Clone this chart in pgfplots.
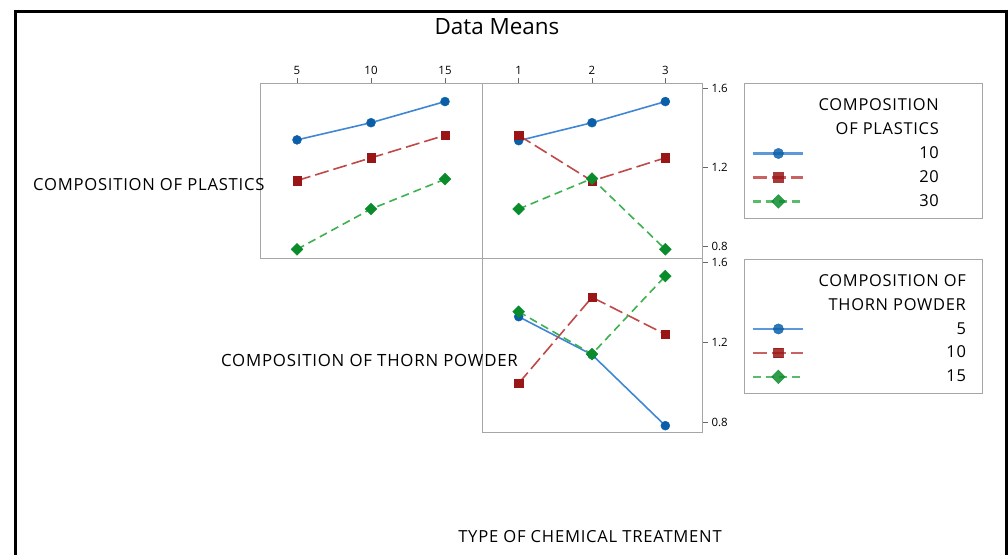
\documentclass[border=0pt]{standalone}
\usepackage{pgfplots}
\pgfplotsset{compat=1.18}
\usepackage{fontspec}
\setmainfont{Open Sans}
\newfontfamily\lab[LetterSpace=4.5]{Open Sans}
\definecolor{bm}{HTML}{0B5FA8}
\definecolor{bl}{HTML}{3F87D4}
\definecolor{rm}{HTML}{9A1616}
\definecolor{rl}{HTML}{C04848}
\definecolor{gm}{HTML}{0A8C2C}
\definecolor{gl}{HTML}{3DB050}
\definecolor{ax}{HTML}{A6A6A6}
\pgfplotsset{
  panel/.style={scale only axis, height=175bp,
     axis line style={ax, line width=1bp}, tick align=outside, major tick length=6bp,
     every tick/.style={black!60, line width=0.8bp},
     tick label style={font=\fontsize{11.5}{13}\selectfont, text=black},
     /pgf/number format/assume math mode=true,
     clip=false},
  sb/.style={bl, line width=1.6bp, solid, mark=*, mark size=4.5bp, mark options={solid, fill=bm, draw=bm, line width=0.4bp}},
  sr/.style={rl, line width=1.6bp, dash pattern=on 14bp off 5bp, mark=square*, mark size=4.2bp, mark options={solid, fill=rm, draw=rm, line width=0.4bp}},
  sg/.style={gl, line width=1.6bp, dash pattern=on 8bp off 5bp, mark=square*, mark size=4.2bp, mark options={solid, rotate=45, fill=gm, draw=gm, line width=0.4bp}},
  leg/.style={legend style={draw=none, fill=none, inner sep=0pt, at={#1}, anchor=north west,
      row sep=10.5bp, column sep=14bp, font=\lab\fontsize{16.5}{19}\selectfont, nodes={inner sep=0pt}},
      legend cell align=right,
      legend image code/.code={\draw[mark repeat=2, mark phase=2, ##1, line width=2.4bp, opacity=0.85, every mark/.append style={scale=1.15}] plot coordinates {(0bp,0bp)(25bp,0bp)(50bp,0bp)};}},
}
\begin{document}
\begin{tikzpicture}[x=1bp,y=1bp]
\useasboundingbox (0,0) rectangle (1008,555);
% frame
\draw[line width=3.3bp] (15.7,-10) -- (15.7,543.3) -- (1006.5,543.3) -- (1006.5,-10);
% panel 1: plastics vs thorn powder
\begin{axis}[panel, at={(260bp,296bp)}, anchor=south west, width=222bp,
  xmin=2.5, xmax=17.5, ymin=0.734, ymax=1.62,
  xtick={5,10,15}, xtick pos=right, xticklabel pos=right, ytick=\empty]
\addplot[sb] coordinates {(5,1.337) (10,1.424) (15,1.531)};
\addplot[sr] coordinates {(5,1.131) (10,1.246) (15,1.360)};
\addplot[sg] coordinates {(5,0.783) (10,0.987) (15,1.138)};
\end{axis}
% panel 2: plastics vs treatment
\begin{axis}[panel, at={(482bp,296bp)}, anchor=south west, width=220bp,
  xmin=0.5, xmax=3.5, ymin=0.734, ymax=1.62,
  xtick={1,2,3}, xtick pos=right, xticklabel pos=right,
  ytick={0.8,1.2,1.6}, ytick pos=right, yticklabel pos=right,
  yticklabel style={/pgf/number format/.cd, fixed, fixed zerofill, precision=1},
  leg={(1.2273,0.9157)}]
\addlegendimage{empty legend}\addlegendentry{COMPOSITION}
\addlegendimage{empty legend}\addlegendentry{OF PLASTICS}
\addplot[sb] coordinates {(1,1.333) (2,1.424) (3,1.531)};\addlegendentry{10}
\addplot[sr] coordinates {(1,1.360) (2,1.129) (3,1.246)};\addlegendentry{20}
\addplot[sg] coordinates {(1,0.987) (2,1.141) (3,0.783)};\addlegendentry{30}
\end{axis}
% panel 3: thorn powder vs treatment
\begin{axis}[panel, at={(482bp,122bp)}, anchor=south west, width=220bp, height=174bp,
  xmin=0.5, xmax=3.5, ymin=0.7485, ymax=1.6185,
  xtick=\empty,
  ytick={0.8,1.2,1.6}, ytick pos=right, yticklabel pos=right,
  yticklabel style={/pgf/number format/.cd, fixed, fixed zerofill, precision=1},
  leg={(1.2273,0.912)}]
\addlegendimage{empty legend}\addlegendentry{COMPOSITION OF}
\addlegendimage{empty legend}\addlegendentry{THORN POWDER}
\addplot[sb] coordinates {(1,1.330) (2,1.140) (3,0.785)};\addlegendentry{5}
\addplot[sr] coordinates {(1,0.997) (2,1.427) (3,1.242)};\addlegendentry{10}
\addplot[sg] coordinates {(1,1.355) (2,1.143) (3,1.533)};\addlegendentry{15}
\end{axis}
% legend boxes
\draw[ax, line width=1bp] (744,336) rectangle (982,471);
\draw[ax, line width=1bp] (744,161) rectangle (982,295);
% texts
\node[inner sep=0pt, font=\fontsize{22.5}{26}\selectfont] at (497,528) {Data Means};
\node[inner sep=0pt, anchor=west, font=\lab\fontsize{16.7}{19}\selectfont] at (33,370) {COMPOSITION OF PLASTICS};
\node[inner sep=0pt, anchor=west, font=\lab\fontsize{16.9}{19}\selectfont] at (221,194.5) {COMPOSITION OF THORN POWDER};
\node[inner sep=0pt, font=\lab\fontsize{16.7}{19}\selectfont] at (590,18) {TYPE OF CHEMICAL TREATMENT};
\end{tikzpicture}
\end{document}
